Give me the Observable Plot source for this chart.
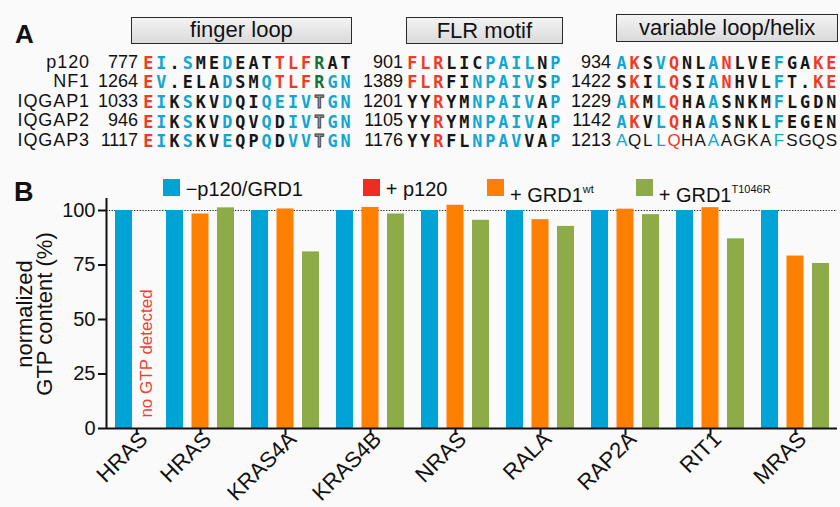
<!DOCTYPE html>
<html><head><meta charset="utf-8">
<script src="https://cdn.jsdelivr.net/npm/d3@7"></script>
<script src="https://cdn.jsdelivr.net/npm/@observablehq/plot@0.6"></script>
<style>
body{margin:0;background:#fff;}
#fig{position:relative;width:840px;height:507px;overflow:hidden;background:#fafafa;font-family:"Liberation Sans",Arial,sans-serif;color:#111;}
.abs{position:absolute;white-space:nowrap;}
.box{position:absolute;border:1.5px solid #2a2a2a;background:linear-gradient(#f3f3f3,#dadada);box-sizing:border-box;font-size:22px;display:flex;align-items:center;justify-content:center;line-height:1;}
.res{display:inline-block;text-align:center;}
.mono{font-family:"DejaVu Sans Mono","Liberation Mono",monospace;font-weight:bold;}
#chart{position:absolute;left:0;top:150px;}
#ylab{position:absolute;left:35px;top:314px;transform:translate(-50%,-50%) rotate(-90deg);font-size:22px;line-height:20px;text-align:center;white-space:nowrap;}
</style></head><body><div id="fig"><div id="chart"></div></div>
<script>
// ---------- Panel A data ----------
const seqNames = ["p120", "NF1", "IQGAP1", "IQGAP2", "IQGAP3"];
const regionTitles = ["finger loop", "FLR motif", "variable loop/helix"];
const fingerStart = [777, 1264, 1033, 946, 1117];
const fingerSeq = ["EI.SMEDEATTLFRAT", "EV.ELADSMQTLFRGN", "EIKSKVDQIQEIVTGN", "EIKSKVDQVQDIVTGN", "EIKSKVEQPQDVVTGN"];
const fingerCol = ["rckckkckkkrrrgkk", "rckkkkckkcrrrgcc", "rckckkckkcccctcc", "rckckkckkckcctcc", "rckckkckkckcctcc"];
const flrStart = [901, 1389, 1201, 1105, 1176];
const flrSeq = ["FLRLICPAILNP", "FLRFINPAIVSP", "YYRYMNPAIVAP", "YYRYMNPAIVAP", "YYRFLNPAVVAP"];
const flrCol = ["rrrkkkcccckc", "rrrkkccccckc", "kkrkkccccckc", "kkrkkccccckc", "kkrkkcccckkc"];
const loopStart = [934, 1422, 1229, 1142, 1213];
const loopSeq = ["AKSVQNLANLVEFGAKE", "SKILQSIANHVLFT.KE", "AKMLQHAASNKMFLGDN", "AKVLQHAASNKLFEGEN", "AQLLQHAAAGKAFSGQS"];
const loopCol = ["crkcrkkcrkkkckkrr", "krkcrkkcrkkkckkrr", "crkcrkkckkkkckkkk", "crkcrkkckkkkckkkk", "ckkcrkkckkkkckkkk"];

// ---------- Panel B data ----------
const genes = ["HRAS", "HRAS", "KRAS4A", "KRAS4B", "NRAS", "RALA", "RAP2A", "RIT1", "MRAS"];
const seriesNames = ["−p120/GRD1", "+ p120", "+ GRD1wt", "+ GRD1T1046R"];
const control = [100, 100, 100, 100, 100, 100, 100, 100, 100];
const p120 = [0, null, null, null, null, null, null, null, null];
const grd1wt = [null, 98.4, 100.7, 101.4, 102.4, 95.8, 100.6, 101.3, 79.1];
const grd1T1046R = [null, 101.2, 81.0, 98.4, 95.5, 92.7, 98.1, 87.0, 75.7];
const yTicks = [0, 25, 50, 75, 100];
const noteText = "no GTP detected";
const yLabelLines = ["normalized", "GTP content (%)"];

// ---------- styles ----------
const seqColors = {r: "#ee3a26", c: "#12a6cf", k: "#161616", g: "#17703a", t: "#9a9a9a"};
const barColors = ["#00a3d6", "#ee2c24", "#ff7f00", "#8dab47"];
const rowStep = 19.6, firstBase = 68.6;

const fig = document.getElementById("fig");
// place text so that its (first) baseline sits at `baseline`
function place(html, x, baseline, size, anchor, cls, extra, lineH) {
  const d = document.createElement("div");
  d.className = "abs " + (cls || "");
  const mono = (cls || "").includes("mono");
  const A = mono ? 0.928 : 0.905, D = mono ? 0.236 : 0.212;
  const L = lineH || Math.round(size * 0.85);
  d.style.fontSize = size + "px";
  d.style.lineHeight = L + "px";
  d.style.top = (baseline - ((L - (A + D) * size) / 2 + A * size)) + "px";
  d.style.left = x + "px";
  if (anchor === "end") { d.style.transform = "translateX(-100%)"; d.style.textAlign = "right"; }
  if (anchor === "middle") d.style.transform = "translateX(-50%)";
  if (extra) Object.assign(d.style, extra);
  d.innerHTML = html;
  fig.appendChild(d);
  return d;
}
function seqHTML(seq, col, pitch) {
  return [...seq].map((ch, i) => {
    const c = col[i];
    let st = `width:${pitch}px;color:${seqColors[c]};`;
    if (c === "t") st += "-webkit-text-stroke:0.9px #3a3a3a;";
    return `<span class="res" style="${st}">${ch}</span>`;
  }).join("");
}

// Panel labels
place("A", 15, 43, 26, "start", "", {fontWeight: "bold"});
place("B", 14, 202, 27, "start", "", {fontWeight: "bold"});

// Region boxes
const boxes = [[130.7, 16.7, 221.6, 27.6], [406, 17.3, 156.7, 27], [616, 14, 222.3, 27.7]];
regionTitles.forEach((t, i) => {
  const b = document.createElement("div");
  b.className = "box";
  const [x, y, w, h] = boxes[i];
  Object.assign(b.style, {left: x + "px", top: y + "px", width: w + "px", height: h + "px"});
  b.textContent = t;
  fig.appendChild(b);
});

// Alignment: name column and residue-number columns as multi-line blocks
place(seqNames.join("<br>"), 90, firstBase, 18, "end", "", {letterSpacing: "0.9px"}, rowStep);
const blocks = [
  {start: fingerStart, seq: fingerSeq, col: fingerCol, numX: 138, seqX: 141.7, pitch: 13.16},
  {start: flrStart, seq: flrSeq, col: flrCol, numX: 403, seqX: 405.8, pitch: 13.0},
  {start: loopStart, seq: loopSeq, col: loopCol, numX: 611, seqX: 615, pitch: 13.12}
];
blocks.forEach((b, bi) => {
  place(b.start.join("<br>"), b.numX, firstBase, 18, "end", "", null, rowStep);
  seqNames.forEach((name, r) => {
    const base = firstBase + rowStep * r;
    const sans = (bi === 2 && r === 4);
    place(seqHTML(b.seq[r], b.col[r], b.pitch), b.seqX, base, sans ? 17 : 16.8, "start", sans ? "" : "mono");
  });
});

// Legend for panel B
const legendX = [162.7, 362.7, 487, 635.7];
const legendHTML = ["−p120/GRD1", "+ p120", "+ GRD1<sup style=\"font-size:11px;vertical-align:9px\">wt</sup>", "+ GRD1<sup style=\"font-size:11px;vertical-align:9px\">T1046R</sup>"];
seriesNames.forEach((s, i) => {
  const sq = document.createElement("div");
  Object.assign(sq.style, {position: "absolute", left: legendX[i] + "px", top: "179px", width: "17px", height: "17px", background: barColors[i]});
  fig.appendChild(sq);
  place(legendHTML[i], legendX[i] + 23, 196, 20, "start");
});

// Y axis title
const yl = document.createElement("div");
yl.id = "ylab";
yl.innerHTML = yLabelLines.join("<br>");
fig.appendChild(yl);

// ---------- Panel B layout (slots from group/series index) ----------
const gap = 1 / 3, halfW = 0.333;
const bars = [], tickPos = [], labelAt = new Map(), notes = [];
let start = 0;
genes.forEach((g, gi) => {
  const members = gi === 0
    ? [[seriesNames[0], control[gi]], [seriesNames[1], p120[gi]]]
    : [[seriesNames[0], control[gi]], [seriesNames[2], grd1wt[gi]], [seriesNames[3], grd1T1046R[gi]]];
  members.forEach(([s, v], j) => {
    const slot = start + j;
    if (v > 0) bars.push({gene: g, series: s, value: v, slot});
    else if (v === 0) notes.push({slot, y: 5, text: noteText});
  });
  const c = start + (members.length - 1) / 2;
  tickPos.push(c); labelAt.set(c, g);
  start += members.length + (gi === 0 ? 0 : gap);
});
const xDomain = [-0.686, 27.98];
const yDomain = [0, 105.5];

const chart = Plot.plot({
  width: 840, height: 357,
  marginLeft: 106, marginRight: 3, marginTop: 48, marginBottom: 79,
  style: {background: "transparent", fontFamily: "'Liberation Sans', Arial, sans-serif", color: "#111", overflow: "visible"},
  x: {type: "linear", domain: xDomain, axis: null},
  y: {domain: yDomain, axis: null},
  color: {domain: seriesNames, range: barColors},
  marks: [
    Plot.ruleY([100], {stroke: "#222", strokeWidth: 1.2, strokeDasharray: "1.3,1.5"}),
    Plot.rectY(bars, {x1: d => d.slot - halfW, x2: d => d.slot + halfW, y1: 0, y2: "value", fill: "series"}),
    Plot.text(notes, {x: d => d.slot - 0.12, y: "y", text: "text", rotate: -90, textAnchor: "start", fill: "#ef4133", fontSize: 17}),
    Plot.ruleY([0], {stroke: "#111", strokeWidth: 2}),
    Plot.ruleX([xDomain[0]], {y1: yDomain[0], y2: yDomain[1], stroke: "#111", strokeWidth: 2}),
    Plot.axisY(yTicks, {tickSize: 8, tickPadding: 3, fontSize: 20, label: null, strokeWidth: 2, tickFormat: d => String(d)}),
    Plot.axisX(tickPos, {tickSize: 7, strokeWidth: 2, fill: "none", label: null, tickFormat: () => ""}),
    Plot.text(tickPos, {x: d => d, text: d => labelAt.get(d), frameAnchor: "bottom", dx: 1, dy: 1, rotate: -45, textAnchor: "end", lineAnchor: "top", fontSize: 22, fill: "#111"})
  ]
});
document.getElementById("chart").appendChild(chart);
</script>
</body></html>
